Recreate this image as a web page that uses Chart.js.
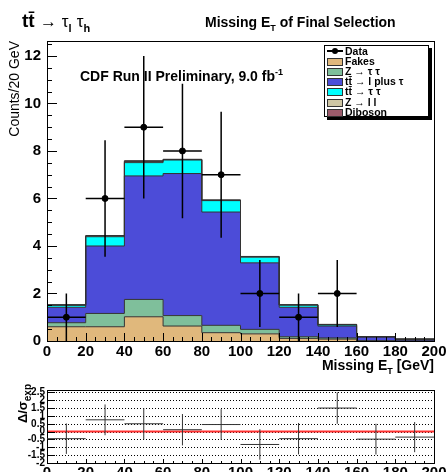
<!DOCTYPE html>
<html lang="en">
<head>
<meta charset="UTF-8" />
<title>Missing ET of Final Selection</title>
<script src="https://cdn.jsdelivr.net/npm/chart.js"></script>
<style>
  body { margin: 0; background: #fff; font-family: "Liberation Sans", Arial, sans-serif; }
  #wrap { position: relative; width: 446px; height: 472px; overflow: hidden; }
  canvas { position: absolute; left: 0; }
  #mainChart { top: 0; }
  #ratioChart { top: 380px; }
  .txt { position: absolute; white-space: nowrap; line-height: 1; color: #000; }
  .b { font-weight: bold; }
  .sym { font-weight: normal; }
  #legend { position: absolute; left: 324px; top: 45px; width: 103px; height: 70px;
            border: 1px solid #000; background: #fff; box-shadow: 3px 3px 0 #000; }
  #legend .row { position: absolute; left: 2px; height: 10px; font: bold 10.5px "Liberation Sans", Arial, sans-serif; line-height: 10px; }
  #legend .sw { position: absolute; left: 0; top: 2px; width: 14px; height: 6px; border: 1px solid #333; }
  #legend .name { position: absolute; left: 18px; top: 0; white-space: nowrap; }
  #legend .dline { position: absolute; left: 0; top: 4px; width: 16px; height: 2px; background: #000; }
  #legend .dot { position: absolute; left: 5px; top: 2px; width: 6px; height: 6px; border-radius: 3px; background: #000; }
</style>
</head>
<body>
<div id="wrap">
  <canvas id="mainChart" width="446" height="380"></canvas>
  <canvas id="ratioChart" width="446" height="92"></canvas>

  <div class="txt b" style="left:22px; top:11px; font-size:19px;">tt&#772; <span class="sym" style="font-size:17px;">&rarr; &tau;</span><sub style="font-size:11px;">l</sub> <span class="sym" style="font-size:17px;">&tau;</span><sub style="font-size:11px;">h</sub></div>
  <div class="txt b" style="left:205px; top:15px; font-size:14px;">Missing E<sub style="font-size:9px;">T</sub> of Final Selection</div>
  <div class="txt b" style="left:80px; top:68px; font-size:14px;">CDF Run II Preliminary, 9.0 fb<sup style="font-size:9px;">-1</sup></div>
  <div class="txt b" style="right:12px; top:358px; font-size:14px;">Missing E<sub style="font-size:9px;">T</sub> [GeV]</div>
  <div class="txt" style="left:7px; top:241px; width:200px; text-align:right; font-size:14px; transform-origin:left top; transform:rotate(-90deg);">Counts/20 GeV</div>
  <div class="txt b" style="left:16px; top:584px; width:200px; text-align:right; font-size:13px; transform-origin:left top; transform:rotate(-90deg);">&Delta;/&sigma;<sub style="font-size:10px;">exp</sub></div>

  <div id="legend"></div>
</div>

<script>
  // bin edges (GeV) and tick values
  const binEdges = [0, 20, 40, 60, 80, 100, 120, 140, 160, 180, 200];
  const xTicks = [0, 20, 40, 60, 80, 100, 120, 140, 160, 180, 200];
  const yTicks = [0, 2, 4, 6, 8, 10, 12];
  const ratioTicks = [-2, -1.5, -1, -0.5, 0, 0.5, 1, 1.5, 2, 2.5];

  // stacked backgrounds, one value per 20 GeV bin
  const fakes    = [0.60, 0.60, 1.02, 0.63, 0.35, 0.30, 0.11, 0.08, 0.00, 0.00];
  const zTauTau  = [0.17, 0.56, 0.73, 0.44, 0.31, 0.19, 0.07, 0.05, 0.01, 0.00];
  const ttLepTau = [0.65, 2.84, 5.20, 5.98, 4.77, 2.80, 1.24, 0.50, 0.16, 0.07];
  const ttTauTau = [0.08, 0.39, 0.56, 0.57, 0.48, 0.24, 0.09, 0.05, 0.01, 0.01];
  const zLL      = [0.02, 0.03, 0.05, 0.02, 0.02, 0.02, 0.01, 0.01, 0.00, 0.00];
  const diboson  = [0.01, 0.02, 0.03, 0.01, 0.01, 0.01, 0.01, 0.01, 0.00, 0.00];

  const stackNames  = ['Fakes', 'Z \u2192 \u03c4 \u03c4', 'tt\u0304 \u2192 l plus \u03c4', 'tt\u0304 \u2192 \u03c4 \u03c4', 'Z \u2192 l l', 'Diboson'];
  const stackColors = ['#e0b87c', '#7fbf9b', '#4c4cd8', '#00ffff', '#cec6a4', '#9c5c6c'];
  const stackValues = [fakes, zTauTau, ttLepTau, ttTauTau, zLL, diboson];

  // observed data
  const dataX   = [10, 30, 50, 70, 90, 110, 130, 150];
  const dataY   = [1, 6, 9, 8, 7, 2, 1, 2];
  const dataErr = [1, 2.45, 3, 2.83, 2.65, 1.41, 1, 1.41];

  // (data - exp) / sigma per bin
  const ratioX   = [10, 30, 50, 70, 90, 110, 130, 150, 170, 190];
  const ratioY   = [-0.45, 0.75, 0.5, 0.12, 0.45, -0.82, -0.45, 1.5, -0.48, -0.35];
  const ratioErr = [0.97, 0.98, 1.0, 1.0, 0.98, 0.97, 1.0, 1.0, 0.98, 0.96];

  const binHalf = 10;
  const tickFont = { family: 'Liberation Sans', weight: 'bold', size: 15 };

  // legend
  const legend = document.getElementById('legend');
  const rowTop = i => (i * 10.1) + 'px';
  let r = document.createElement('div');
  r.className = 'row'; r.style.top = rowTop(0);
  r.innerHTML = '<div class="dline"></div><div class="dot"></div><span class="name">Data</span>';
  legend.appendChild(r);
  stackNames.forEach((n, i) => {
    const row = document.createElement('div');
    row.className = 'row';
    row.style.top = rowTop(i + 1);
    const sw = document.createElement('div');
    sw.className = 'sw';
    sw.style.background = stackColors[i];
    const nm = document.createElement('span');
    nm.className = 'name';
    nm.textContent = n;
    row.appendChild(sw); row.appendChild(nm);
    legend.appendChild(row);
  });

  function stepPoints(vals) {
    const pts = vals.map((v, i) => ({ x: binEdges[i], y: v }));
    pts.push({ x: binEdges[vals.length], y: vals[vals.length - 1] });
    return pts;
  }

  // inside ticks + frame, ROOT style
  const frameTicks = {
    id: 'frameTicks',
    afterDatasetsDraw(chart, args, o) {
      const { ctx, chartArea: a, scales: { x, y } } = chart;
      ctx.save();
      ctx.strokeStyle = '#000';
      ctx.lineWidth = 1;
      ctx.beginPath();
      for (let v = x.min; v <= x.max + 1e-6; v += o.xMinor) {
        const px = Math.round(x.getPixelForValue(v)) + 0.5;
        const len = Math.abs(v % o.xMajor) < 1e-6 ? o.xMajorLen : o.xMinorLen;
        ctx.moveTo(px, a.bottom); ctx.lineTo(px, a.bottom - len);
      }
      for (let v = o.yStart; v <= y.max + 1e-6; v += o.yMinor) {
        const py = Math.round(y.getPixelForValue(v)) + 0.5;
        const len = Math.abs(((v - o.yStart) % o.yMajor)) < 1e-6 ? o.yMajorLen : o.yMinorLen;
        ctx.moveTo(a.left, py); ctx.lineTo(a.left + len, py);
      }
      ctx.stroke();
      ctx.strokeRect(Math.round(a.left) + 0.5, Math.round(a.top) + 0.5, Math.round(a.right - a.left), Math.round(a.bottom - a.top));
      ctx.restore();
    }
  };

  // error bars drawn through the scales
  const errorBars = {
    id: 'errorBars',
    afterDatasetsDraw(chart, args, o) {
      const { ctx, chartArea: a, scales: { x, y } } = chart;
      ctx.save();
      ctx.beginPath();
      ctx.rect(a.left, a.top, a.right - a.left, a.bottom - a.top);
      ctx.clip();
      ctx.strokeStyle = o.color;
      ctx.lineWidth = o.width;
      ctx.beginPath();
      o.xs.forEach((xv, i) => {
        const px = x.getPixelForValue(xv);
        const py = y.getPixelForValue(o.ys[i]);
        ctx.moveTo(x.getPixelForValue(xv - o.half), py);
        ctx.lineTo(x.getPixelForValue(xv + o.half), py);
        ctx.moveTo(px, y.getPixelForValue(o.ys[i] + o.errs[i]));
        ctx.lineTo(px, y.getPixelForValue(o.ys[i] - o.errs[i]));
      });
      ctx.stroke();
      ctx.restore();
    }
  };

  // dotted horizontal grid for the ratio pad
  const dottedGrid = {
    id: 'dottedGrid',
    beforeDatasetsDraw(chart, args, o) {
      const { ctx, chartArea: a, scales: { y } } = chart;
      ctx.save();
      ctx.strokeStyle = '#000';
      ctx.lineWidth = 1;
      ctx.setLineDash([1, 2]);
      ctx.beginPath();
      o.values.forEach(v => {
        const py = Math.round(y.getPixelForValue(v)) + 0.5;
        ctx.moveTo(a.left, py); ctx.lineTo(a.right, py);
      });
      ctx.stroke();
      ctx.restore();
    }
  };

  const stackSets = stackValues.map((vals, i) => ({
    label: stackNames[i],
    data: stepPoints(vals),
    stepped: true,
    backgroundColor: stackColors[i],
    borderColor: '#333',
    borderWidth: 1,
    pointRadius: 0,
    fill: i === 0 ? 'origin' : '-1',
    stack: 'mc',
    order: 1
  }));

  new Chart(document.getElementById('mainChart'), {
    type: 'line',
    data: {
      datasets: [
        ...stackSets,
        {
          label: 'Data',
          type: 'scatter',
          data: dataX.map((x, i) => ({ x, y: dataY[i] })),
          backgroundColor: '#000',
          borderColor: '#000',
          pointRadius: 3,
          stack: 'data',
          order: 0
        }
      ]
    },
    options: {
      responsive: false,
      animation: false,
      layout: { padding: { top: 41, right: 12, left: 0, bottom: 19 } },
      scales: {
        x: {
          type: 'linear',
          min: binEdges[0],
          max: binEdges[binEdges.length - 1],
          afterBuildTicks: s => { s.ticks = xTicks.map(v => ({ value: v })); },
          afterFit: s => { s.height = 20; s.paddingLeft = 0; s.paddingRight = 0; },
          ticks: { font: tickFont, color: '#000', padding: 2, maxRotation: 0, autoSkip: false },
          grid: { display: false, drawTicks: false },
          border: { display: false }
        },
        y: {
          stacked: true,
          min: 0,
          max: 12.63,
          afterBuildTicks: s => { s.ticks = yTicks.map(v => ({ value: v })); },
          afterFit: s => { s.width = 47; s.paddingTop = 0; s.paddingBottom = 0; },
          ticks: { font: tickFont, color: '#000', padding: 6 },
          grid: { display: false, drawTicks: false },
          border: { display: false }
        }
      },
      plugins: {
        legend: { display: false },
        tooltip: { enabled: false },
        filler: { drawTime: 'beforeDatasetsDraw' },
        frameTicks: { xMinor: 5, xMajor: 20, xMajorLen: 8, xMinorLen: 4, yStart: 0, yMinor: 0.5, yMajor: 2, yMajorLen: 10, yMinorLen: 5 },
        errorBars: { xs: dataX, ys: dataY, errs: dataErr, half: binHalf, color: '#000', width: 1.5 }
      }
    },
    plugins: [frameTicks, errorBars]
  });

  const refLevel = 0;
  new Chart(document.getElementById('ratioChart'), {
    type: 'scatter',
    data: {
      datasets: [
        {
          label: 'ref',
          type: 'line',
          data: [{ x: binEdges[0], y: refLevel }, { x: binEdges[binEdges.length - 1], y: refLevel }],
          borderColor: '#ff3030',
          borderWidth: 2,
          pointRadius: 0
        },
        {
          label: 'pull',
          data: ratioX.map((x, i) => ({ x, y: ratioY[i] })),
          pointRadius: 0
        }
      ]
    },
    options: {
      responsive: false,
      animation: false,
      layout: { padding: { top: 10, right: 12, left: 0, bottom: 0 } },
      scales: {
        x: {
          type: 'linear',
          min: binEdges[0],
          max: binEdges[binEdges.length - 1],
          afterBuildTicks: s => { s.ticks = xTicks.map(v => ({ value: v })); },
          afterFit: s => { s.height = 9; s.paddingLeft = 0; s.paddingRight = 0; },
          ticks: { font: tickFont, color: '#000', padding: 1, maxRotation: 0, autoSkip: false },
          grid: { display: false, drawTicks: false },
          border: { display: false }
        },
        y: {
          min: -2,
          max: 2.65,
          afterBuildTicks: s => { s.ticks = ratioTicks.map(v => ({ value: v })); },
          afterFit: s => { s.width = 47; s.paddingTop = 0; s.paddingBottom = 0; },
          ticks: {
            font: { family: 'Liberation Sans', weight: 'bold', size: 10 },
            color: '#000', padding: 2, autoSkip: false,
            callback: v => String(v)
          },
          grid: { display: false, drawTicks: false },
          border: { display: false }
        }
      },
      plugins: {
        legend: { display: false },
        tooltip: { enabled: false },
        dottedGrid: { values: ratioTicks },
        frameTicks: { xMinor: 5, xMajor: 20, xMajorLen: 4, xMinorLen: 2, yStart: -2, yMinor: 0.5, yMajor: 0.5, yMajorLen: 8, yMinorLen: 4 },
        errorBars: { xs: ratioX, ys: ratioY, errs: ratioErr, half: binHalf, color: '#333', width: 1 }
      }
    },
    plugins: [dottedGrid, frameTicks, errorBars]
  });
</script>
</body>
</html>
